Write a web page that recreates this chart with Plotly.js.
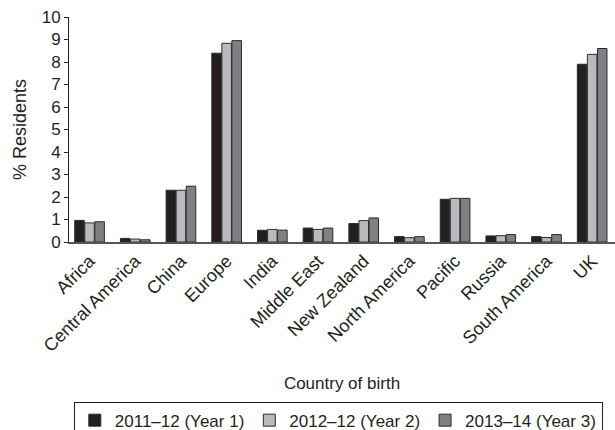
<!DOCTYPE html>
<html><head><meta charset="utf-8">
<script src="https://cdn.plot.ly/plotly-3.0.1.min.js"></script>
<style>html,body{margin:0;padding:0;background:#fff}#chart{width:615px;height:430px}</style>
</head><body><div id="chart"></div>
<script>
const categories = ["Africa","Central America","China","Europe","India","Middle East","New Zealand","North America","Pacific","Russia","South America","UK"];
const year1 = [0.96,0.16,2.3,8.39,0.52,0.62,0.82,0.24,1.9,0.27,0.24,7.9];
const year2 = [0.85,0.13,2.3,8.83,0.56,0.56,0.95,0.19,1.94,0.28,0.2,8.34];
const year3 = [0.9,0.1,2.48,8.95,0.53,0.62,1.07,0.24,1.94,0.33,0.33,8.6];
const seriesNames = ["2011\u201312 (Year 1)","2012\u201312 (Year 2)","2013\u201314 (Year 3)"];
const colors = ["#231f20","#b9babd","#7f8083"];
const vals = [year1, year2, year3];
const font = "Arial, 'Liberation Sans', sans-serif";
const traces = vals.map((v,i)=>({
  type:"bar", x:categories, y:v, name:seriesNames[i],
  marker:{color:colors[i], line:{color:"#2b2b2b", width:1}}
}));
const layout = {
  width:615, height:430,
  margin:{l:69, r:0, t:17, b:188},
  paper_bgcolor:"#fff", plot_bgcolor:"#fff",
  font:{family:font, color:"#231f20"},
  barmode:"group", bargap:0.34, bargroupgap:0.05,
  showlegend:true,
  legend:{orientation:"h", xref:"container", yref:"container", x:0.12, xanchor:"left", y:0.066, yanchor:"top",
    bordercolor:"#231f20", borderwidth:1, font:{size:17, family:font, color:"#231f20"},
    itemwidth:30, tracegroupgap:0},
  xaxis:{type:"category", range:[-0.45,11.5], showline:true, linecolor:"#555", linewidth:1.5,
    ticks:"", tickangle:-45, tickfont:{size:18, family:font, color:"#231f20"},
    title:{text:"Country of birth", font:{size:17, family:font, color:"#231f20"}, standoff:22},
    automargin:false, showgrid:false, zeroline:false, fixedrange:true},
  yaxis:{range:[0,10], dtick:1, showline:true, linecolor:"#231f20", linewidth:1,
    ticks:"outside", ticklen:4, tickcolor:"#231f20", tickfont:{size:17, family:font, color:"#231f20"},
    title:{text:"% Residents", font:{size:18, family:font, color:"#231f20"}, standoff:10},
    showgrid:false, zeroline:false, automargin:false}
};
Plotly.newPlot("chart", traces, layout, {staticPlot:true, displayModeBar:false});
</script></body></html>
